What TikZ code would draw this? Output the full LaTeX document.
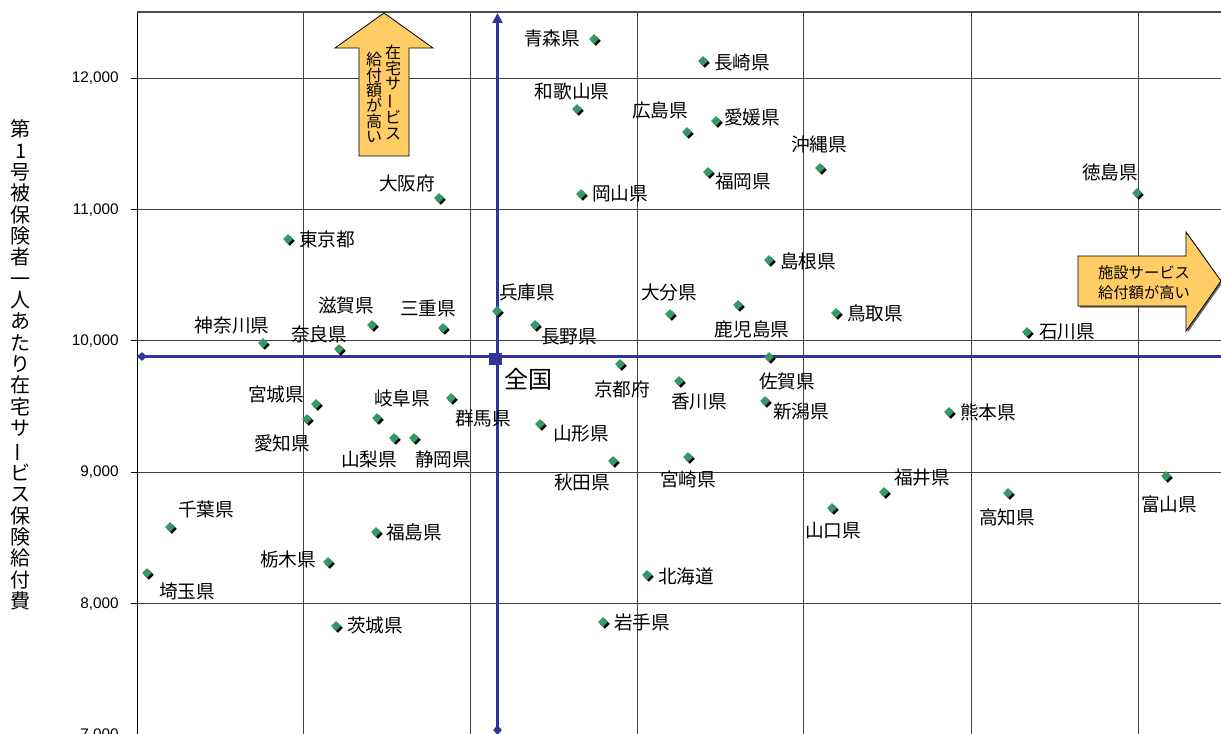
\documentclass[tikz,border=0pt]{standalone}
\usepackage{fontspec}
\setmainfont{Noto Sans CJK JP}
\newfontfamily\numfont{Liberation Sans}
\usetikzlibrary{shapes.geometric, arrows.meta, shadows}
\definecolor{mkgreen}{RGB}{51,153,102}
\definecolor{avgblue}{RGB}{51,51,153}
\definecolor{notefill}{RGB}{255,204,102}
\newcommand{\tatebar}{\rotatebox[origin=c]{90}{ー}}

\begin{document}
\begin{tikzpicture}[x=0.75pt, y=-0.75pt,
    every node/.style={inner sep=0pt},
    mk/.style={diamond, fill=mkgreen, minimum size=7.5pt,
        drop shadow={shadow xshift=1.4pt, shadow yshift=-1.4pt, fill=black, opacity=1}},
    lbl/.style={font=\fontsize{14}{16}\selectfont},
    gridline/.style={black!75, line width=0.75pt},
    avgline/.style={avgblue, line width=2pt},
    note/.style={draw=black, fill=notefill, line width=0.6pt}]
    \useasboundingbox (0,0) rectangle (1221,734);
    \clip (0,0) rectangle (1221,734);

    % Grid and axis
    \foreach \gx in {303,470,637,803,971,1138}
        \draw[gridline] (\gx,12) -- (\gx,740);
    \foreach \gy/\val in {78.3/12,209.7/11,341/10,472.4/9,603.8/8,735.2/7}{
        \draw[gridline] (137,\gy) -- (1225,\gy);
        \draw[black, line width=0.75pt] (131,\gy) -- (137,\gy);
        \node[anchor=east, font=\numfont\fontsize{11.5}{14}\selectfont] (tick\val) at (119,\gy) {\val,000};
    }
    \draw[black, line width=0.75pt] (137,12) -- (137,740);
    \draw[black!70, line width=1.5pt] (137,12) -- (1225,12);

    % Axis title
    \node[font=\fontsize{15}{16}\selectfont, align=center] (ytitle) at (21,365)
        {第\\1\\号\\被\\保\\険\\者\\一\\人\\あ\\た\\り\\在\\宅\\サ\\\tatebar\\ビ\\ス\\保\\険\\給\\付\\費};

    % Direction arrows
    \draw[note] (384,13) -- (433,48) -- (409,48) -- (409,156) -- (359,156) -- (359,48) -- (335,48) -- cycle;
    \node[font=\fontsize{12}{11.5}\selectfont, align=center] (upnote1) at (393,92.5) {在\\宅\\サ\\\tatebar\\ビ\\ス};
    \node[font=\fontsize{12}{11.5}\selectfont, align=center] (upnote2) at (374,97.5) {給\\付\\額\\が\\高\\い};
    \draw[note, drop shadow={shadow xshift=1.2pt, shadow yshift=-1.2pt, fill=black!60, opacity=1}]
        (1078,256) -- (1186,256) -- (1186,232) -- (1221,281) -- (1186,331) -- (1186,306) -- (1078,306) -- cycle;
    \node[font=\fontsize{11.5}{15}\selectfont, align=center] (rightnote) at (1144,283) {施設サービス\\給付額が高い};

    % National average
    \coordinate (vbot) at (497.5,735);
    \coordinate (vtop) at (497.5,13);
    \coordinate (hleft) at (137,356.5);
    \coordinate (hright) at (1235,356.5);
    \draw[avgline, {Diamond[length=7.5pt,width=6.5pt]}-{Triangle[length=7.5pt,width=7.5pt]}] (vbot) -- (vtop);
    \draw[avgline, {Diamond[length=7.5pt,width=6.5pt]}-{Triangle[length=7.5pt,width=7.5pt]}] (hleft) -- (hright);
    \node[fill=avgblue, minimum size=9.5pt] (zenkoku) at (495.5,359) {};
    \node[font=\fontsize{18}{20}\selectfont] (zenkoku-l) at (528,379) {全国};

    % Upper half
    \node[mk] (aomori) at (594,39) {}; \node[lbl] (aomori-l) at (552,38) {青森県};
    \node[mk] (nagasaki) at (703,61) {}; \node[lbl] (nagasaki-l) at (742,62) {長崎県};
    \node[mk] (wakayama) at (577,109) {}; \node[lbl] (wakayama-l) at (572,91) {和歌山県};
    \node[mk] (hiroshima) at (687,132) {}; \node[lbl] (hiroshima-l) at (660,110) {広島県};
    \node[mk] (ehime) at (716,121) {}; \node[lbl] (ehime-l) at (752,117) {愛媛県};
    \node[mk] (okinawa) at (820,168) {}; \node[lbl] (okinawa-l) at (819,144) {沖縄県};
    \node[mk] (fukuoka) at (708,172) {}; \node[lbl] (fukuoka-l) at (743,181) {福岡県};
    \node[mk] (okayama) at (581,194) {}; \node[lbl] (okayama-l) at (620,194) {岡山県};
    \node[mk] (tokushima) at (1137,193) {}; \node[lbl] (tokushima-l) at (1110,172) {徳島県};
    \node[mk] (osaka) at (439,198) {}; \node[lbl] (osaka-l) at (407,183) {大阪府};
    \node[mk] (tokyo) at (288,239) {}; \node[lbl] (tokyo-l) at (327,239) {東京都};
    \node[mk] (shimane) at (769,260) {}; \node[lbl] (shimane-l) at (808,261) {島根県};
    \node[mk] (oita) at (670,314) {}; \node[lbl] (oita-l) at (669,292) {大分県};
    \node[mk] (kagoshima) at (738,305) {}; \node[lbl] (kagoshima-l) at (752,329) {鹿児島県};
    \node[mk] (tottori) at (836,313) {}; \node[lbl] (tottori-l) at (875,313) {鳥取県};
    \node[mk] (ishikawa) at (1027,332) {}; \node[lbl] (ishikawa-l) at (1067,332) {石川県};
    \node[mk] (hyogo) at (497,311) {}; \node[lbl] (hyogo-l) at (527,292) {兵庫県};
    \node[mk] (nagano) at (535,325) {}; \node[lbl] (nagano-l) at (569,337) {長野県};
    \node[mk] (mie) at (443,328) {}; \node[lbl] (mie-l) at (428,308) {三重県};
    \node[mk] (shiga) at (372,325) {}; \node[lbl] (shiga-l) at (346,305) {滋賀県};
    \node[mk] (kanagawa) at (263,343) {}; \node[lbl] (kanagawa-l) at (232,325) {神奈川県};
    \node[mk] (nara) at (339,349) {}; \node[lbl] (nara-l) at (319,334) {奈良県};

    % Lower half
    \node[mk] (kyoto) at (620,364) {}; \node[lbl] (kyoto-l) at (622,389) {京都府};
    \node[mk] (kagawa) at (679,381) {}; \node[lbl] (kagawa-l) at (699,402) {香川県};
    \node[mk] (saga) at (769,357) {}; \node[lbl] (saga-l) at (787,381) {佐賀県};
    \node[mk] (niigata) at (765,401) {}; \node[lbl] (niigata-l) at (801,411) {新潟県};
    \node[mk] (kumamoto) at (949,412) {}; \node[lbl] (kumamoto-l) at (988,412) {熊本県};
    \node[mk] (miyagi) at (316,404) {}; \node[lbl] (miyagi-l) at (276,394) {宮城県};
    \node[mk] (aichi) at (307,419) {}; \node[lbl] (aichi-l) at (282,443) {愛知県};
    \node[mk] (gifu) at (377,418) {}; \node[lbl] (gifu-l) at (402,398) {岐阜県};
    \node[mk] (gunma) at (451,398) {}; \node[lbl] (gunma-l) at (483,418) {群馬県};
    \node[mk] (yamagata) at (540,424) {}; \node[lbl] (yamagata-l) at (581,434) {山形県};
    \node[mk] (yamanashi) at (394,438) {}; \node[lbl] (yamanashi-l) at (369,459) {山梨県};
    \node[mk] (shizuoka) at (414,438) {}; \node[lbl] (shizuoka-l) at (443,459) {静岡県};
    \node[mk] (akita) at (613,461) {}; \node[lbl] (akita-l) at (582,482) {秋田県};
    \node[mk] (miyazaki) at (688,457) {}; \node[lbl] (miyazaki-l) at (688,479) {宮崎県};
    \node[mk] (fukui) at (884,492) {}; \node[lbl] (fukui-l) at (922,477) {福井県};
    \node[mk] (yamaguchi) at (832,508) {}; \node[lbl] (yamaguchi-l) at (833,531) {山口県};
    \node[mk] (kochi) at (1008,493) {}; \node[lbl] (kochi-l) at (1007,517) {高知県};
    \node[mk] (toyama) at (1166,476) {}; \node[lbl] (toyama-l) at (1169,504) {富山県};
    \node[mk] (chiba) at (170,527) {}; \node[lbl] (chiba-l) at (206,509) {千葉県};
    \node[mk] (fukushima) at (376,532) {}; \node[lbl] (fukushima-l) at (414,532) {福島県};
    \node[mk] (tochigi) at (328,562) {}; \node[lbl] (tochigi-l) at (288,559) {栃木県};
    \node[mk] (saitama) at (147,573) {}; \node[lbl] (saitama-l) at (187,591) {埼玉県};
    \node[mk] (hokkaido) at (647,575) {}; \node[lbl] (hokkaido-l) at (686,576) {北海道};
    \node[mk] (ibaraki) at (336,626) {}; \node[lbl] (ibaraki-l) at (375,625) {茨城県};
    \node[mk] (iwate) at (603,622) {}; \node[lbl] (iwate-l) at (642,622) {岩手県};
\end{tikzpicture}
\end{document}
